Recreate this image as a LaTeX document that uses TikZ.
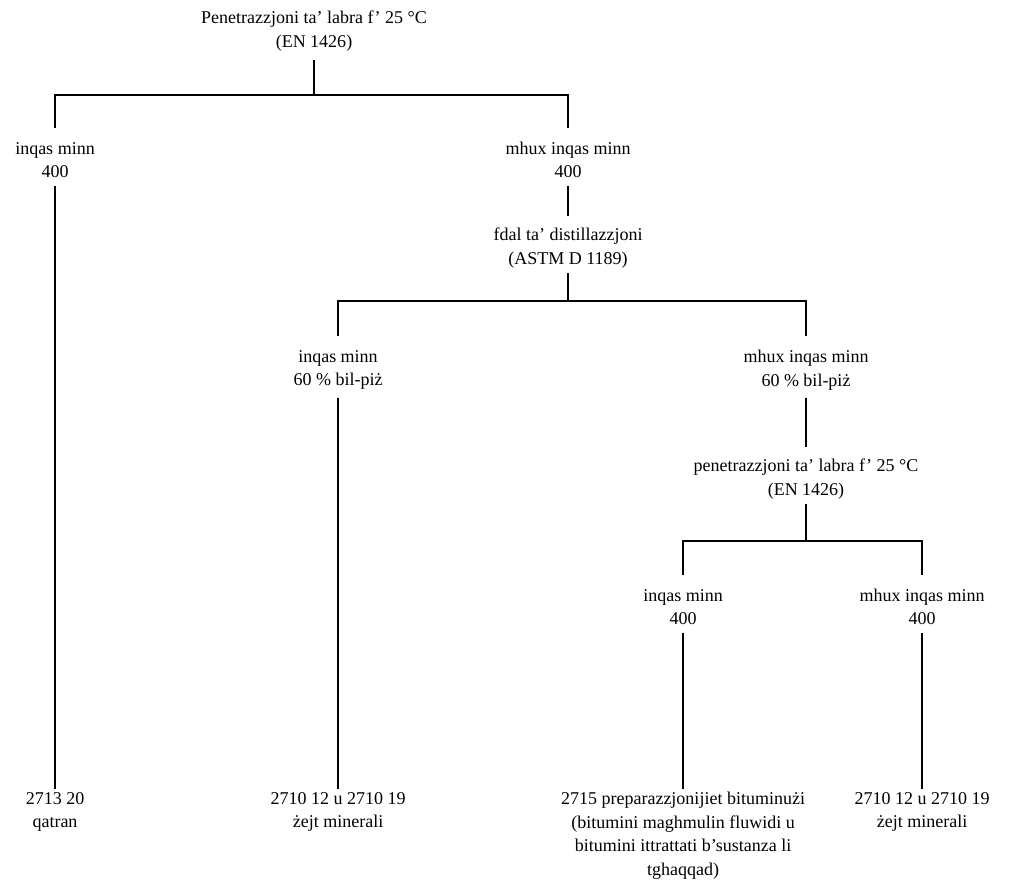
\documentclass[tikz,border=0pt]{standalone}
\usepackage{fontspec}
\setmainfont{Liberation Serif}
\usetikzlibrary{calc}

\begin{document}
\begin{tikzpicture}[x=1pt,y=-1pt,
    lbl/.style={align=center, inner sep=0pt, font=\fontsize{18}{23.5}\selectfont},
    branch/.style={line width=2.5pt, line join=miter}]
  \useasboundingbox (0,0) rectangle (1014,882);

  % First test: penetration at 25 °C
  \node[lbl] (root) at (314,31) {Penetrazzjoni ta’ labra f’ 25 °C\\(EN 1426)};
  \coordinate (J0) at (314,95);
  \node[lbl] (A1) at (55,160) {inqas minn\\400};
  \node[lbl] (A2) at (568,160) {mhux inqas minn\\400};
  \draw[branch] ([yshift=-9pt]root.south) -- (J0);
  \draw[branch] ([yshift=14pt]A1.north) |- (J0) -| ([yshift=14pt]A2.north);

  % Distillation residue
  \node[lbl] (D) at (568,248) {fdal ta’ distillazzjoni\\(ASTM D 1189)};
  \coordinate (J1) at (568,301);
  \node[lbl] (B1) at (338,370) {inqas minn\\60 \% bil-piż};
  \node[lbl] (B2) at (806,370) {mhux inqas minn\\60 \% bil-piż};
  \draw[branch] ([yshift=-8pt]A2.south) -- ([yshift=12pt]D.north);
  \draw[branch] ([yshift=-5pt]D.south) -- (J1);
  \draw[branch] ([yshift=14pt]B1.north) |- (J1) -| ([yshift=14pt]B2.north);

  % Second penetration test
  \node[lbl] (P) at (806,479) {penetrazzjoni ta’ labra f’ 25 °C\\(EN 1426)};
  \coordinate (J2) at (806,541);
  \node[lbl] (C1) at (683,607) {inqas minn\\400};
  \node[lbl] (C2) at (922,607) {mhux inqas minn\\400};
  \draw[branch] ([yshift=-8pt]B2.south) -- ([yshift=12pt]P.north);
  \draw[branch] ([yshift=-5pt]P.south) -- (J2);
  \draw[branch] ([yshift=14pt]C1.north) |- (J2) -| ([yshift=14pt]C2.north);

  % Headings at the bottom
  \node[lbl, anchor=north] (LA) at (55,792) {2713 20\\qatran};
  \node[lbl, anchor=north] (LB) at (338,792) {2710 12 u 2710 19\\żejt minerali};
  \node[lbl, anchor=north] (LC) at (683,792) {2715 preparazzjonijiet bituminużi\\(bitumini maghmulin fluwidi u\\bitumini ittrattati b’sustanza li\\tghaqqad)};
  \node[lbl, anchor=north] (LD) at (922,792) {2710 12 u 2710 19\\żejt minerali};
  \draw[branch] ([yshift=-8pt]A1.south) -- ([yshift=3pt]LA.north);
  \draw[branch] ([yshift=-8pt]B1.south) -- ([yshift=3pt]LB.north);
  \draw[branch] ([yshift=-8pt]C1.south) -- ([yshift=3pt]LC.north);
  \draw[branch] ([yshift=-8pt]C2.south) -- ([yshift=3pt]LD.north);
\end{tikzpicture}
\end{document}
